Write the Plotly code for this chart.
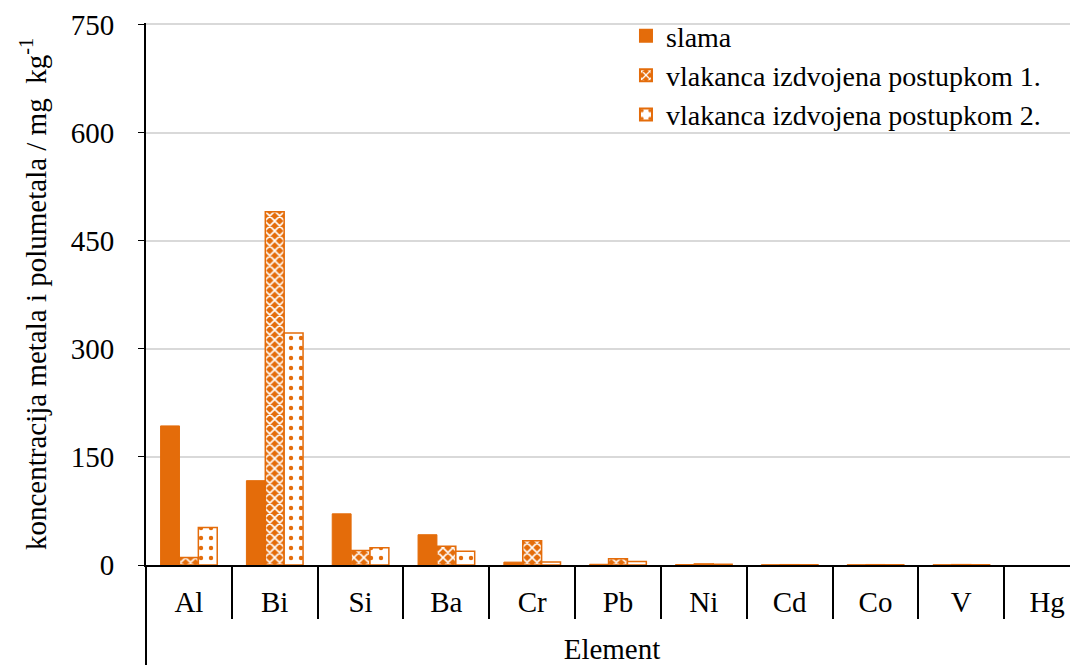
import plotly.graph_objects as go

elements = ["Al", "Bi", "Si", "Ba", "Cr", "Pb", "Ni", "Cd", "Co", "V", "Hg"]
slama = [193, 117, 71, 42, 4, 1, 0.6, 0.3, 0.3, 0.3, 0]
postupak1 = [10.5, 490, 20, 26, 33.5, 8.8, 1.5, 0.4, 0.4, 0.5, 0]
postupak2 = [52, 322, 24, 19, 4, 5, 1, 0.3, 0.3, 0.3, 0]
y_ticks = [0, 150, 300, 450, 600, 750]

ORANGE = "#E46C0A"
FONT = "Liberation Serif, Times New Roman, serif"
FS = 29


def outline(values, w):
    return [w if v > 0 else 0 for v in values]


fig = go.Figure()
fig.add_trace(go.Bar(
    name="slama", x=elements, y=slama,
    marker=dict(color=ORANGE, line=dict(color=ORANGE, width=outline(slama, 1))),
))
fig.add_trace(go.Bar(
    name="vlakanca izdvojena postupkom 1.", x=elements, y=postupak1,
    marker=dict(color=ORANGE, line=dict(color=ORANGE, width=outline(postupak1, 1.5)),
                pattern=dict(shape="x", fgcolor="white", bgcolor=ORANGE,
                             size=7, solidity=0.4, fillmode="replace")),
))
fig.add_trace(go.Bar(
    name="vlakanca izdvojena postupkom 2.", x=elements, y=postupak2,
    marker=dict(color="white", line=dict(color=ORANGE, width=outline(postupak2, 1.5)),
                pattern=dict(shape=".", fgcolor=ORANGE, bgcolor="white",
                             size=10, solidity=0.15, fillmode="replace")),
))

fig.update_layout(
    width=1070, height=657,
    margin=dict(l=138, r=0, t=15, b=100),
    paper_bgcolor="white", plot_bgcolor="white",
    barmode="group", bargap=0.34, bargroupgap=0,
    font=dict(family=FONT, size=FS, color="black"),
    showlegend=True,
    legend=dict(x=0.515, y=1.022, xanchor="left", yanchor="top",
                bgcolor="rgba(0,0,0,0)", font=dict(size=28, family=FONT),
                itemsizing="constant", tracegroupgap=0),
)
fig.update_xaxes(
    type="category", categoryorder="array", categoryarray=elements,
    range=[-0.5, 10.36],
    showline=True, linecolor="black", linewidth=2,
    ticks="outside", tickson="boundaries", ticklen=52, tickwidth=2, tickcolor="black",
    ticklabelstandoff=10,
    showgrid=False,
    tickfont=dict(size=FS, family=FONT),
    title=dict(text="Element", font=dict(size=FS, family=FONT), standoff=26),
)
fig.update_yaxes(
    range=[0, 752], tickvals=y_ticks,
    showline=True, linecolor="black", linewidth=2,
    ticks="outside", ticklen=6, tickwidth=1, tickcolor="black",
    ticklabelstandoff=18,
    showgrid=True, gridcolor="#D9D9D9", gridwidth=2,
    zeroline=False,
    tickfont=dict(size=FS, family=FONT),
    title=dict(text="koncentracija metala i polumetala / mg  kg<sup>-1</sup>",
               font=dict(size=FS, family=FONT), standoff=16),
)
# extension of the vertical axis line below the category axis
fig.add_shape(type="line", xref="paper", yref="paper",
              x0=0, x1=0, y0=0, y1=-0.19, line=dict(color="black", width=2))

fig.write_html("out.html")
